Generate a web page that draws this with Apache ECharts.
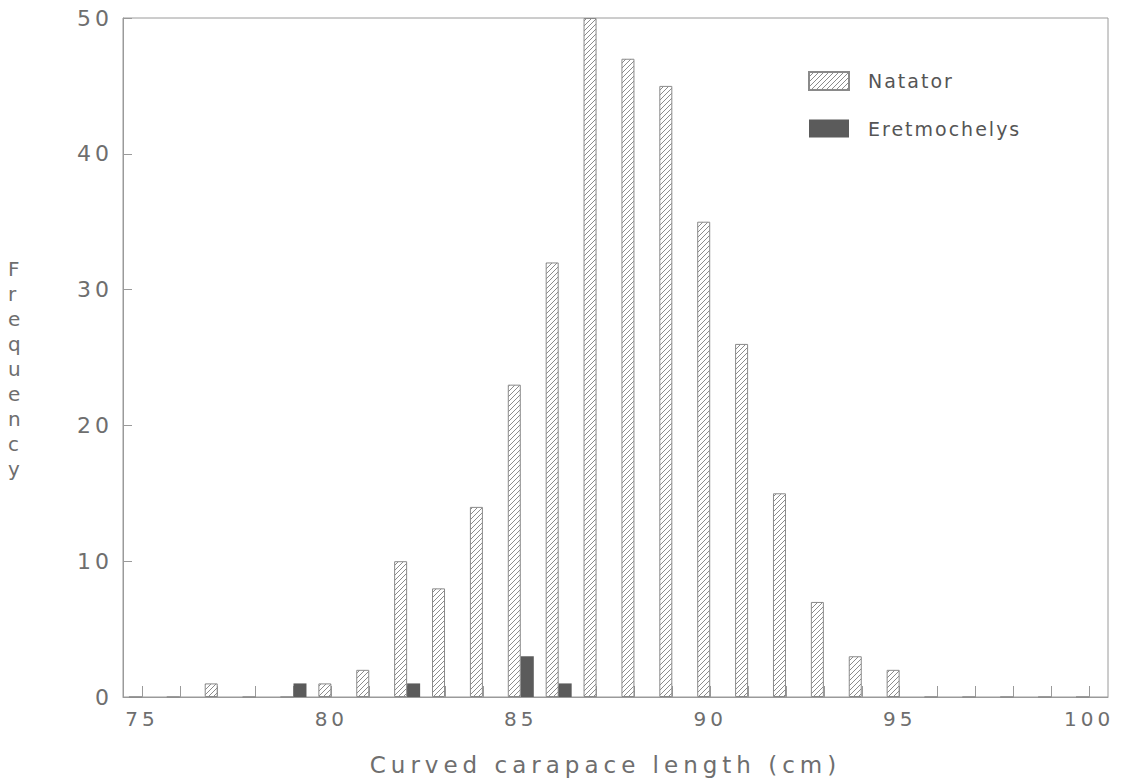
<!DOCTYPE html>
<html>
<head>
<meta charset="utf-8">
<script src="https://cdn.jsdelivr.net/npm/echarts@6/dist/echarts.min.js"></script>
<style>
html,body{margin:0;padding:0;background:#fff;}
#chart{width:1131px;height:783px;}
#chart svg text[style*="22px"]{letter-spacing:4px;}
#chart svg text[style*="20px"]{letter-spacing:4px;}
#chart svg text[style*="19px"]{letter-spacing:2px;}
#chart svg text[style*="23px"]{letter-spacing:5px;}
</style>
</head>
<body>
<div id="chart"></div>
<script>
const categories = ['75','76','77','78','79','80','81','82','83','84','85','86','87','88','89','90','91','92','93','94','95','96','97','98','99','100'];
const natator =      [0,0,1,0,0,1,2,10,8,14,23,32,50,47,45,35,26,15,7,3,2,0,0,0,0,0];
const eretmochelys = [0,0,0,0,1,0,0,1,0,0,3,1,0,0,0,0,0,0,0,0,0,0,0,0,0,0];
const yTicks = [0,10,20,30,40,50];

const tile = document.createElement('canvas');
tile.width = 5; tile.height = 5;
const ctx = tile.getContext('2d');
ctx.fillStyle = '#ffffff';
ctx.fillRect(0,0,5,5);
ctx.strokeStyle = '#8c8c8c';
ctx.lineWidth = 1;
ctx.beginPath();
ctx.moveTo(-1,6); ctx.lineTo(6,-1);
ctx.moveTo(-1,1); ctx.lineTo(1,-1);
ctx.moveTo(4,6); ctx.lineTo(6,4);
ctx.stroke();

const chart = echarts.init(document.getElementById('chart'), null, {renderer:'svg'});
const grey = '#6e6e6e';
chart.setOption({
  animation:false,
  backgroundColor:'#fff',
  grid:{left:123,right:23,top:18,bottom:86,show:true,borderColor:'#9a9a9a',borderWidth:1,containLabel:false,outerBoundsMode:'none'},
  legend:{
    orient:'vertical', left:803, top:66, itemWidth:40, itemHeight:18, itemGap:28,
    icon:'rect',
    textStyle:{color:'#555',fontSize:19,fontFamily:'DejaVu Sans',padding:[0,0,0,14]},
    data:['Natator','Eretmochelys']
  },
  graphic:[{
    type:'text', left:8, top:256,
    style:{text:'Frequency', width:16, overflow:'breakAll', lineHeight:25, fontSize:20,
      fontFamily:'DejaVu Sans', fill:grey, align:'center'}
  }],
  xAxis:{
    type:'category', data:categories, boundaryGap:true,
    axisLine:{lineStyle:{color:'#9a9a9a'}},
    axisTick:{show:true,inside:true,length:11,interval:0,alignWithLabel:true,lineStyle:{color:'#9a9a9a'}},
    axisLabel:{interval:4,color:grey,fontSize:20,fontFamily:'DejaVu Sans',margin:12},
    name:'Curved carapace length (cm)', nameLocation:'middle', nameGap:56,
    nameTextStyle:{color:grey,fontSize:23,fontFamily:'DejaVu Sans',padding:[0,20,0,0]}
  },
  yAxis:{
    type:'value', min:0, max:50, interval:10,
    splitLine:{show:false},
    axisLine:{show:true,lineStyle:{color:'#9a9a9a'}},
    axisTick:{show:true,inside:true,length:9,lineStyle:{color:'#9a9a9a'}},
    axisLabel:{color:grey,fontSize:22,fontFamily:'DejaVu Sans',margin:10,
      formatter:function(v){return yTicks.indexOf(v)>=0?String(v):'';}}
  },
  series:[
    {name:'Natator', type:'bar', data:natator, barWidth:13, barGap:'0%',
     itemStyle:{color:{image:tile,repeat:'repeat'},borderColor:'#8a8a8a',borderWidth:1}},
    {name:'Eretmochelys', type:'bar', data:eretmochelys, barWidth:13, barGap:'0%',
     itemStyle:{color:'#5b5b5b'}}
  ]
});
</script>
</body>
</html>
